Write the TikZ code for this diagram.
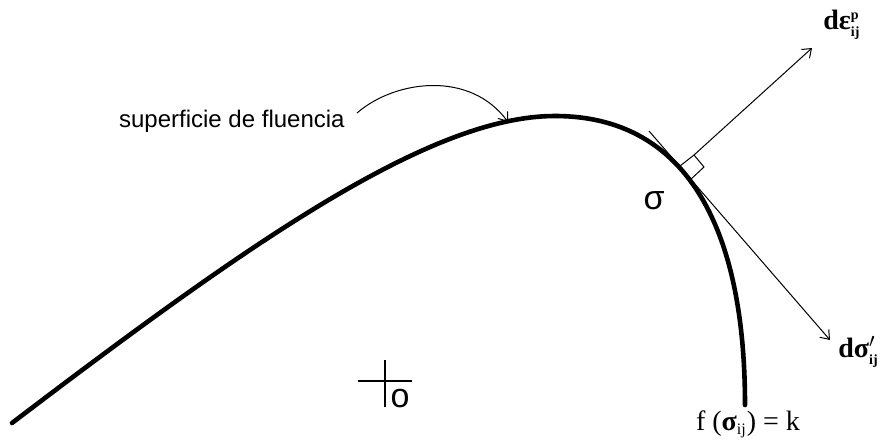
\documentclass[tikz,border=0pt]{standalone}
\usepackage{fontspec}
\setmainfont{Liberation Serif}
\setsansfont{Liberation Sans}
\usetikzlibrary{arrows.meta,positioning,calc}
\tikzset{
    every node/.style={inner sep=0pt},
    curva/.style={line width=2.3pt,line cap=round},
    fino/.style={line width=0.5pt},
    flecha/.style={fino,-{Straight Barb[length=4pt,width=6pt]}},
    rotulo/.style={font=\sffamily\fontsize{12}{14}\selectfont},
    simbolo/.style={font=\sffamily\fontsize{17}{19}\selectfont},
    vector/.style={font=\bfseries\fontsize{14}{16}\selectfont}
}

\begin{document}
\begin{tikzpicture}[x=0.5pt,y=-0.5pt]
\useasboundingbox (0,0) rectangle (885,441);
% superficie de fluencia
\draw[curva] (12,423) .. controls (250,242) and (430,116) .. (555,116)
    .. controls (683,116) and (745,222) .. (745,405);
\coordinate (pico) at (508,122);
\node[rotulo,anchor=east] (sup) at (345,121) {superficie de fluencia};
\draw[flecha] ([xshift=6pt,yshift=4pt]sup.east) .. controls (395,80) and (470,70) .. (pico);
% tangente y normal
\coordinate (tA) at (649,131);
\coordinate (tB) at (830,340);
\coordinate (qA) at (680,166);
\coordinate (qB) at (694,155);
\coordinate (qC) at (704,167);
\coordinate (qD) at (690,180);
\coordinate (nB) at (812,48);
\draw[flecha] (tA) -- (tB);
\draw[fino] (qA) -- (qB) -- (qC) -- (qD);
\draw[flecha] (qB) -- (nB);
\node[vector,anchor=west] (deps) at (823,25) {dε$^{\mbox{\scriptsize p}}_{\mbox{\scriptsize ij}}$};
\node[vector,anchor=west] (dsig) at (838,352) {dσ$'_{\mbox{\scriptsize ij}}$};
\node[simbolo] (sigma) at (654,201) {σ};
% origen
\coordinate (hA) at (358,381);
\coordinate (hB) at (412,381);
\coordinate (vA) at (385,360);
\coordinate (vB) at (385,407);
\draw[line width=1.1pt] (hA) -- (hB) (vA) -- (vB);
\node[simbolo] (orig) at (400,399) {o};
\node[font=\fontsize{14}{16}\selectfont] (fk) at (748,424) {f (\textbf{σ}\textsubscript{\footnotesize ij}) = k};
\end{tikzpicture}
\end{document}
